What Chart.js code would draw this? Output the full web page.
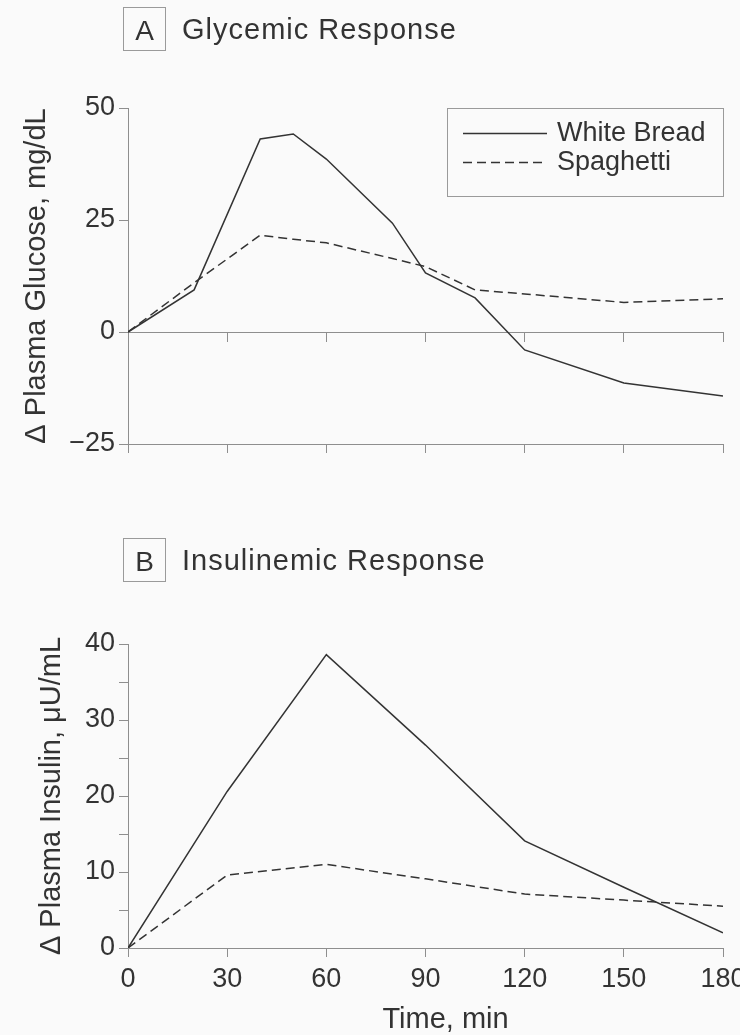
<!DOCTYPE html>
<html>
<head>
<meta charset="utf-8">
<script src="https://cdn.jsdelivr.net/npm/chart.js@4.4.1/dist/chart.umd.min.js"></script>
<style>
  html, body { margin: 0; padding: 0; background: #fafafa; }
  #wrap { position: relative; width: 740px; height: 1035px; overflow: hidden; background: #fafafa; }
  #c1 { position: absolute; left: 0; top: 0; }
  #c2 { position: absolute; left: 0; top: 500px; }
</style>
</head>
<body>
<div id="wrap">
  <canvas id="c1" width="740" height="500"></canvas>
  <canvas id="c2" width="740" height="535"></canvas>
</div>
<script>
// ---------- data ----------
const glucoseTimes       = [0, 20, 40, 50, 60, 80, 90, 105, 120, 150, 180];
const glucoseWhiteBread  = [0, 9.4, 43.1, 44.2, 38.6, 24.3, 13.2, 7.6, -4.0, -11.4, -14.3];
const glucoseSpaghetti   = [0, 11.0, 21.6, 20.7, 19.9, 16.4, 14.6, 9.4, 8.5, 6.6, 7.4];

const insulinTimes       = [0, 30, 60, 90, 120, 150, 180];
const insulinWhiteBread  = [0, 20.6, 38.6, 26.7, 14.1, 8.0, 2.0];
const insulinSpaghetti   = [0, 9.6, 11.0, 9.1, 7.1, 6.3, 5.5];

const timeTicks          = [0, 30, 60, 90, 120, 150, 180];
const timeTickLabels     = ['0', '30', '60', '90', '120', '150', '180'];
const glucoseTicks       = [-25, 0, 25, 50];
const glucoseTickLabels  = ['\u221225', '0', '25', '50'];
const insulinTicks       = [0, 5, 10, 15, 20, 25, 30, 35, 40];
const insulinTickLabels  = ['0', '', '10', '', '20', '', '30', '', '40'];

const seriesNames = ['White Bread', 'Spaghetti'];
const panelLetters = ['A', 'B'];
const panelTitles = ['Glycemic Response', 'Insulinemic Response'];
const glucoseAxisTitle = '\u0394 Plasma Glucose, mg/dL';
const insulinAxisTitle = '\u0394 Plasma Insulin, \u03bcU/mL';
const timeAxisTitle = 'Time, min';

// ---------- style ----------
const FONT = "'Liberation Sans', Arial, Helvetica, sans-serif";
const INK = '#333333';
const AXIS = '#8e8e8e';
const DASH = [9, 5];

function makeDataset(label, xs, ys, dashed) {
  return {
    label,
    data: xs.map((x, i) => ({ x, y: ys[i] })),
    borderColor: INK,
    backgroundColor: INK,
    borderWidth: 1.5,
    borderDash: dashed ? DASH : [],
    pointRadius: 0,
    fill: false,
    tension: 0
  };
}

function setTicks(values) {
  return (scale) => { scale.ticks = values.map(v => ({ value: v })); };
}

function panelTitlePlugin(idx, boxTop) {
  return {
    id: 'panelTitle' + idx,
    afterDraw(chart) {
      const ctx = chart.ctx;
      ctx.save();
      ctx.strokeStyle = '#9a9a9a';
      ctx.lineWidth = 1;
      ctx.strokeRect(123.5, boxTop + 0.5, 42, 43);
      ctx.fillStyle = INK;
      ctx.textBaseline = 'alphabetic';
      ctx.font = '28px ' + FONT;
      ctx.textAlign = 'center';
      ctx.fillText(panelLetters[idx], 144.5, boxTop + 33);
      ctx.textAlign = 'left';
      ctx.font = '29px ' + FONT;
      try { ctx.letterSpacing = '1px'; } catch (e) {}
      ctx.fillText(panelTitles[idx], 182, boxTop + 32);
      ctx.restore();
    }
  };
}

const legendBoxPlugin = {
  id: 'legendBox',
  afterDraw(chart) {
    const ctx = chart.ctx;
    ctx.save();
    ctx.strokeStyle = '#9a9a9a';
    ctx.lineWidth = 1;
    ctx.strokeRect(447.5, 108.5, 276, 88);
    const rows = [133, 162];
    chart.data.datasets.forEach((ds, i) => {
      const y = rows[i] + 0.5;
      ctx.strokeStyle = ds.borderColor;
      ctx.lineWidth = 1.3;
      ctx.setLineDash(ds.borderDash || []);
      ctx.beginPath();
      ctx.moveTo(463, y);
      ctx.lineTo(547, y);
      ctx.stroke();
      ctx.setLineDash([]);
      ctx.fillStyle = INK;
      ctx.font = '27px ' + FONT;
      ctx.textAlign = 'left';
      ctx.textBaseline = 'middle';
      ctx.fillText(ds.label, 557, rows[i] + 1);
    });
    ctx.restore();
  }
};

// x-axis title of panel B, placed under the axis (slightly right of centre as in the original)
const timeTitlePlugin = {
  id: 'timeTitle',
  afterDraw(chart) {
    const ctx = chart.ctx;
    const xs = chart.scales.x;
    ctx.save();
    ctx.fillStyle = INK;
    ctx.font = '29px ' + FONT;
    ctx.textAlign = 'center';
    ctx.textBaseline = 'alphabetic';
    ctx.fillText(timeAxisTitle, (xs.left + xs.right) / 2 + 20, xs.bottom - 7);
    ctx.restore();
  }
};

const axisGrid = { drawOnChartArea: false, drawTicks: true, tickLength: 9, color: AXIS, lineWidth: 1 };
const axisBorder = { display: true, color: AXIS, width: 1 };

// ---------- Panel A ----------
new Chart(document.getElementById('c1'), {
  type: 'line',
  data: {
    datasets: [
      makeDataset(seriesNames[0], glucoseTimes, glucoseWhiteBread, false),
      makeDataset(seriesNames[1], glucoseTimes, glucoseSpaghetti, true)
    ]
  },
  options: {
    responsive: false,
    animation: false,
    events: [],
    layout: { padding: { top: 108, right: 17, left: 0, bottom: 0 } },
    plugins: { legend: { display: false }, tooltip: { enabled: false }, title: { display: false } },
    scales: {
      x: {
        type: 'linear', axis: 'x', position: 'bottom', min: 0, max: 180,
        afterBuildTicks: setTicks(timeTicks),
        ticks: { display: false },
        grid: axisGrid, border: axisBorder,
        afterFit: (s) => { s.height = 56; s.paddingLeft = 0; s.paddingRight = 0; }
      },
      x2: {
        type: 'linear', axis: 'x', position: { y: 0 }, min: 0, max: 180,
        afterBuildTicks: setTicks(timeTicks),
        ticks: { display: false },
        grid: axisGrid, border: axisBorder,
        afterFit: (s) => { s.paddingLeft = 0; s.paddingRight = 0; }
      },
      y: {
        type: 'linear', position: 'left', min: -25, max: 50,
        afterBuildTicks: setTicks(glucoseTicks),
        ticks: { color: INK, padding: 4, font: { family: FONT, size: 27 },
                 callback: (v, i) => glucoseTickLabels[i] },
        grid: axisGrid, border: axisBorder,
        title: { display: true, text: glucoseAxisTitle, color: INK,
                 font: { family: FONT, size: 29 }, padding: { top: 20, bottom: 0 } },
        afterFit: (s) => { s.width = 128; }
      }
    }
  },
  plugins: [panelTitlePlugin(0, 7), legendBoxPlugin]
});

// ---------- Panel B ----------
new Chart(document.getElementById('c2'), {
  type: 'line',
  data: {
    datasets: [
      makeDataset(seriesNames[0], insulinTimes, insulinWhiteBread, false),
      makeDataset(seriesNames[1], insulinTimes, insulinSpaghetti, true)
    ]
  },
  options: {
    responsive: false,
    animation: false,
    events: [],
    layout: { padding: { top: 144, right: 17, left: 0, bottom: 0 } },
    plugins: { legend: { display: false }, tooltip: { enabled: false }, title: { display: false } },
    scales: {
      x: {
        type: 'linear', axis: 'x', position: 'bottom', min: 0, max: 180,
        afterBuildTicks: setTicks(timeTicks),
        ticks: { color: INK, padding: 6, autoSkip: false, maxRotation: 0,
                 font: { family: FONT, size: 27 },
                 callback: (v, i) => timeTickLabels[i] },
        grid: axisGrid, border: axisBorder,
        title: { display: false, text: timeAxisTitle },
        afterFit: (s) => { s.height = 87; s.paddingLeft = 0; s.paddingRight = 0; }
      },
      y: {
        type: 'linear', position: 'left', min: 0, max: 40,
        afterBuildTicks: setTicks(insulinTicks),
        ticks: { color: INK, padding: 4, font: { family: FONT, size: 27 },
                 callback: (v, i) => insulinTickLabels[i] },
        grid: axisGrid, border: axisBorder,
        title: { display: true, text: insulinAxisTitle, color: INK,
                 font: { family: FONT, size: 29 }, padding: { top: 35, bottom: 0 } },
        afterFit: (s) => { s.width = 128; }
      }
    }
  },
  plugins: [panelTitlePlugin(1, 38), timeTitlePlugin]
});
</script>
</body>
</html>
